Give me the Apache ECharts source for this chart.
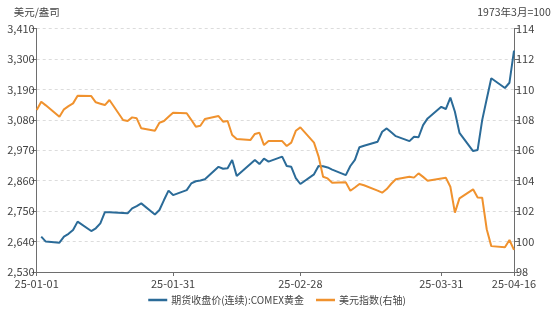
<!DOCTYPE html>
<html>
<head>
<meta charset="utf-8">
<script src="https://cdn.jsdelivr.net/npm/echarts@6/dist/echarts.min.js"></script>
<style>
html,body{margin:0;padding:0;background:#fff;}
#chart{width:554px;height:315px;}
</style>
</head>
<body>
<div id="chart"></div>
<script>
var xTickLabels = ['2025-01-01','2025-01-31','2025-02-28','2025-03-31','2025-04-16'];
var goldDates = ['2025-01-02','2025-01-03','2025-01-06','2025-01-07','2025-01-08','2025-01-09','2025-01-10','2025-01-13','2025-01-14','2025-01-15','2025-01-16','2025-01-17','2025-01-21','2025-01-22','2025-01-23','2025-01-24','2025-01-27','2025-01-28','2025-01-29','2025-01-30','2025-01-31','2025-02-03','2025-02-04','2025-02-05','2025-02-06','2025-02-07','2025-02-10','2025-02-11','2025-02-12','2025-02-13','2025-02-14','2025-02-18','2025-02-19','2025-02-20','2025-02-21','2025-02-24','2025-02-25','2025-02-26','2025-02-27','2025-02-28','2025-03-03','2025-03-04','2025-03-05','2025-03-06','2025-03-07','2025-03-10','2025-03-11','2025-03-12','2025-03-13','2025-03-14','2025-03-17','2025-03-18','2025-03-19','2025-03-20','2025-03-21','2025-03-24','2025-03-25','2025-03-26','2025-03-27','2025-03-28','2025-03-31','2025-04-01','2025-04-02','2025-04-03','2025-04-04','2025-04-07','2025-04-08','2025-04-09','2025-04-10','2025-04-11','2025-04-14','2025-04-15','2025-04-16'];
var goldValues = [2658,2640,2636,2658,2668,2682,2712,2678,2688,2706,2746,2746,2742,2760,2768,2778,2738,2754,2790,2824,2808,2826,2850,2858,2861,2865,2910,2903,2905,2935,2877,2935,2920,2940,2929,2947,2913,2910,2869,2848,2883,2913,2912,2908,2900,2880,2913,2935,2981,2986,3001,3037,3049,3035,3021,3003,3019,3017,3061,3085,3127,3119,3160,3109,3033,2967,2971,3079,3155,3230,3195,3214,3330];
var usdDates = ['2025-01-01','2025-01-02','2025-01-03','2025-01-06','2025-01-07','2025-01-08','2025-01-09','2025-01-10','2025-01-13','2025-01-14','2025-01-15','2025-01-16','2025-01-17','2025-01-20','2025-01-21','2025-01-22','2025-01-23','2025-01-24','2025-01-27','2025-01-28','2025-01-29','2025-01-30','2025-01-31','2025-02-03','2025-02-04','2025-02-05','2025-02-06','2025-02-07','2025-02-10','2025-02-11','2025-02-12','2025-02-13','2025-02-14','2025-02-17','2025-02-18','2025-02-19','2025-02-20','2025-02-21','2025-02-24','2025-02-25','2025-02-26','2025-02-27','2025-02-28','2025-03-03','2025-03-04','2025-03-05','2025-03-06','2025-03-07','2025-03-10','2025-03-11','2025-03-12','2025-03-13','2025-03-14','2025-03-17','2025-03-18','2025-03-19','2025-03-20','2025-03-21','2025-03-24','2025-03-25','2025-03-26','2025-03-27','2025-03-28','2025-03-31','2025-04-01','2025-04-02','2025-04-03','2025-04-04','2025-04-07','2025-04-08','2025-04-09','2025-04-10','2025-04-11','2025-04-14','2025-04-15','2025-04-16'];
var usdValues = [108.64,109.19,108.95,108.2,108.69,108.9,109.08,109.58,109.56,109.15,109.06,108.97,109.3,107.99,107.92,108.16,108.1,107.44,107.28,107.81,107.92,108.2,108.47,108.43,108.0,107.55,107.61,108.05,108.25,107.88,107.92,107.0,106.74,106.67,107.07,107.15,106.34,106.6,106.6,106.28,106.5,107.28,107.5,106.5,105.6,104.26,104.15,103.87,103.89,103.34,103.55,103.78,103.7,103.35,103.21,103.45,103.8,104.09,104.26,104.2,104.48,104.25,104.0,104.15,104.2,103.6,101.9,102.84,103.43,102.9,102.88,100.81,99.7,99.62,100.1,99.45];
var leftTicks = {min:2530, max:3410, interval:110};
var rightTicks = {min:98, max:114, interval:2};
var seriesNames = ['期货收盘价(连续):COMEX黄金','美元指数(右轴)'];
var axisNames = ['美元/盎司','1973年3月=100'];

var DAY = 86400000;
function ts(s){ var p=s.split('-'); return Date.UTC(+p[0], +p[1]-1, +p[2]); }
var t0 = ts(xTickLabels[0]);
function dayIdx(s){ return Math.round((ts(s)-t0)/DAY); }
function fmt(v){ var d=new Date(t0+Math.round(v)*DAY); return String(d.getUTCFullYear()).slice(2)+'-'+('0'+(d.getUTCMonth()+1)).slice(-2)+'-'+('0'+d.getUTCDate()).slice(-2); }
function zip(d, v){ return d.map(function(x,i){ return [dayIdx(x), v[i]]; }); }
var tickDays = xTickLabels.map(dayIdx);

var FONT = '"Noto Sans CJK SC","Noto Sans",sans-serif';
var chart = echarts.init(document.getElementById('chart'), null, {renderer:'canvas'});
var axisLineStyle = {color:'#6e6e6e', width:1};
chart.setOption({
  animation:false,
  textStyle:{fontFamily:FONT},
  grid:{left:36.7, right:40, top:28.5, bottom:43, containLabel:false},
  legend:{
    bottom:5, left:'center', itemWidth:19, itemHeight:2.5, itemGap:12, icon:'rect',
    textStyle:{fontSize:10, color:'#444', fontFamily:FONT, padding:[0,0,0,-1]},
    data:seriesNames
  },
  xAxis:{
    type:'value', min:tickDays[0], max:tickDays[tickDays.length-1],
    axisLine:{lineStyle:axisLineStyle},
    axisTick:{show:true, length:4, lineStyle:{color:'#6e6e6e'}, customValues:tickDays},
    splitLine:{show:false},
    axisLabel:{customValues:tickDays, fontSize:11, color:'#444', margin:6, fontFamily:FONT, formatter:fmt}
  },
  yAxis:[{
    type:'value', min:leftTicks.min, max:leftTicks.max, interval:leftTicks.interval,
    name:axisNames[0], nameLocation:'end', nameGap:11,
    nameTextStyle:{fontSize:10.5, color:'#444', align:'center', fontFamily:FONT},
    axisLine:{show:true, lineStyle:axisLineStyle},
    axisTick:{show:true, length:5, lineStyle:{color:'#6e6e6e'}},
    splitLine:{show:true, lineStyle:{color:'#dcdcdc', type:[3,3]}},
    axisLabel:{fontSize:11, color:'#444', margin:2, fontFamily:FONT,
      formatter:function(v){ return v.toLocaleString('en-US'); }}
  },{
    type:'value', min:rightTicks.min, max:rightTicks.max, interval:rightTicks.interval,
    name:axisNames[1], nameLocation:'end', nameGap:11,
    nameTextStyle:{fontSize:10.5, color:'#444', align:'center', fontFamily:FONT},
    axisLine:{show:true, lineStyle:axisLineStyle},
    axisTick:{show:true, length:5, lineStyle:{color:'#6e6e6e'}},
    splitLine:{show:false},
    axisLabel:{fontSize:11, color:'#444', margin:2, fontFamily:FONT}
  }],
  series:[{
    name:seriesNames[0], type:'line', yAxisIndex:0, symbol:'none', showSymbol:false,
    lineStyle:{color:'#2b6b98', width:2}, itemStyle:{color:'#2b6b98'},
    data:zip(goldDates, goldValues)
  },{
    name:seriesNames[1], type:'line', yAxisIndex:1, symbol:'none', showSymbol:false,
    lineStyle:{color:'#f0922e', width:2}, itemStyle:{color:'#f0922e'},
    data:zip(usdDates, usdValues)
  }]
});
</script>
</body>
</html>
